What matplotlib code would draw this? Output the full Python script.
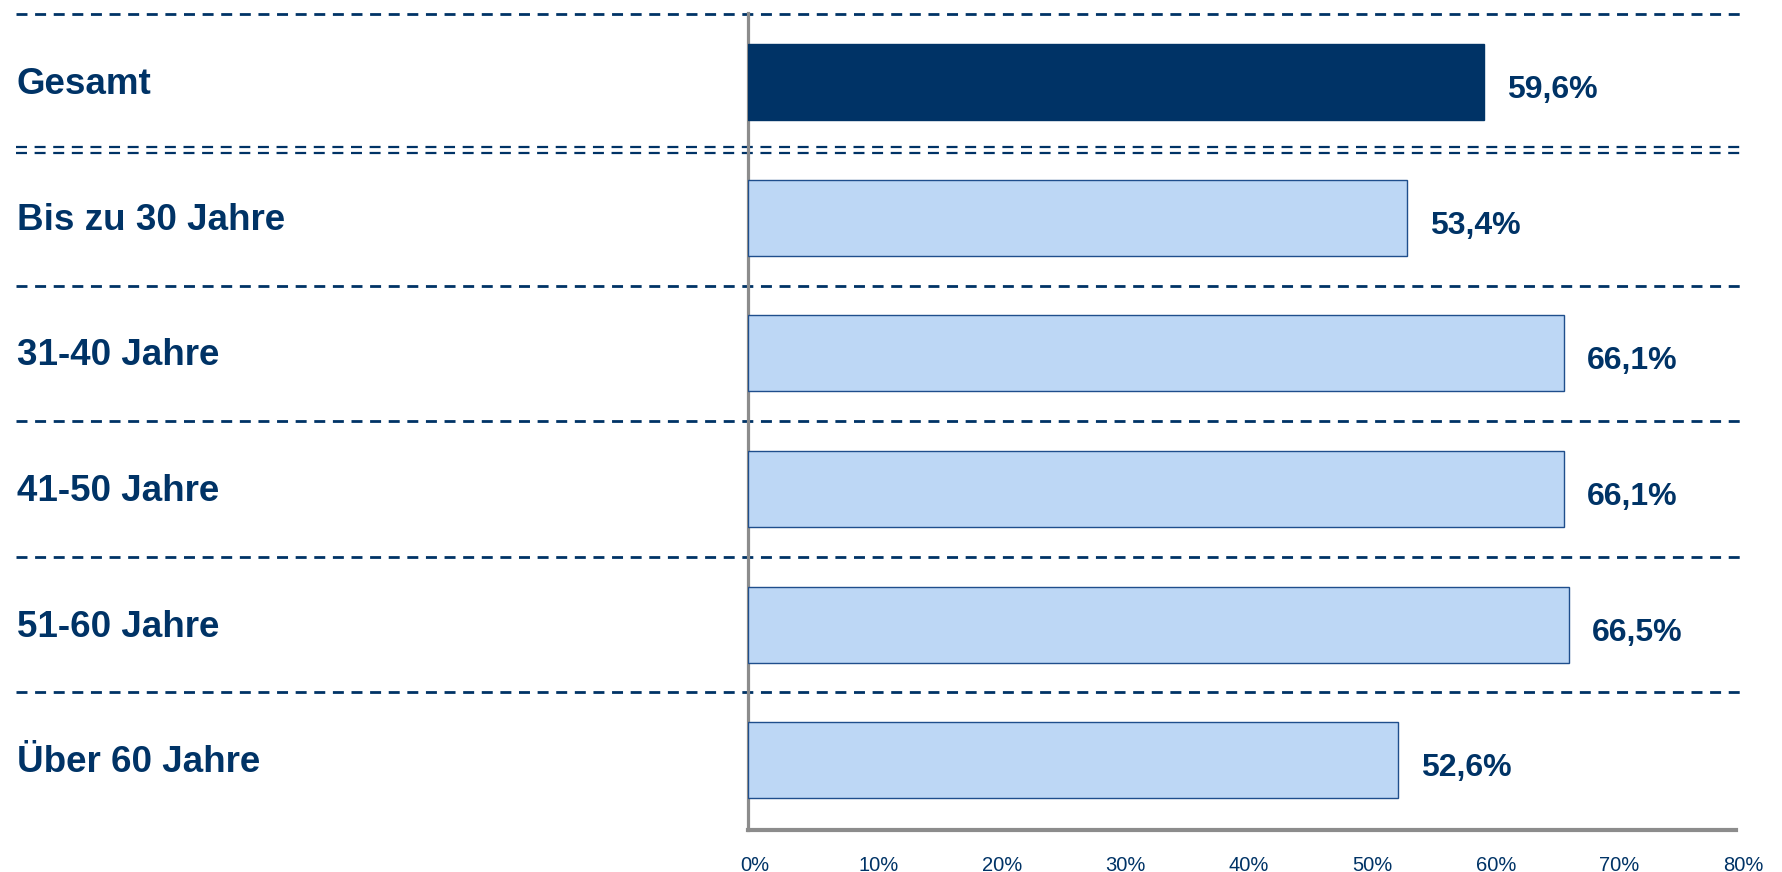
import matplotlib
matplotlib.use("Agg")
import matplotlib.pyplot as plt
from matplotlib.transforms import blended_transform_factory, ScaledTranslation

plt.rcParams['font.family'] = ['Liberation Sans', 'DejaVu Sans']
plt.rcParams['lines.scale_dashes'] = False

categories = ["Gesamt", "Bis zu 30 Jahre", "31-40 Jahre", "41-50 Jahre", "51-60 Jahre", "Über 60 Jahre"]
values = [59.6, 53.4, 66.1, 66.1, 66.5, 52.6]
value_labels = ["59,6%", "53,4%", "66,1%", "66,1%", "66,5%", "52,6%"]
xticks = [0, 10, 20, 30, 40, 50, 60, 70, 80]
xtick_labels = ["0%", "10%", "20%", "30%", "40%", "50%", "60%", "70%", "80%"]

NAVY = "#003366"
LIGHT = "#BDD7F5"
EDGE = "#1F4E8C"
GRAY = "#8C8C8C"

W, H = 1782, 872
fig = plt.figure(figsize=(W / 100, H / 100), dpi=100)
ax = fig.add_axes([748 / W, 42 / H, 988 / W, 817 / H])

ys = list(range(len(categories)))
colors = [NAVY] + [LIGHT] * (len(categories) - 1)
edges = [NAVY] + [EDGE] * (len(categories) - 1)
ax.barh(ys, values, height=0.56, color=colors, edgecolor=edges, linewidth=1.0, zorder=3)

ax.set_xlim(0, 80)
ax.set_ylim(5.515, -0.51)

for s in ["top", "right"]:
    ax.spines[s].set_visible(False)
ax.spines["left"].set_color(GRAY)
ax.spines["left"].set_linewidth(2.3)
ax.spines["bottom"].set_color(GRAY)
ax.spines["bottom"].set_linewidth(3.0)
ax.set_yticks([])
ax.set_xticks(xticks)
ax.set_xticklabels(xtick_labels, fontsize=14.5, color=NAVY)
ax.tick_params(axis="x", length=0, pad=19)
off = ScaledTranslation(7 / 100, 0, fig.dpi_scale_trans)
for lbl in ax.get_xticklabels():
    lbl.set_transform(lbl.get_transform() + off)

# category labels
trans_lbl = blended_transform_factory(fig.transFigure, ax.transData)
co = ScaledTranslation(0, -2.5 / 100, fig.dpi_scale_trans)
for y, c in zip(ys, categories):
    ax.text(17 / W, y, c, transform=trans_lbl + co, ha="left", va="center",
            fontsize=26.5, fontweight="bold", color=NAVY, clip_on=False)

# value labels
vo = ScaledTranslation(23 / 100, -8 / 100, fig.dpi_scale_trans)
for y, v, t in zip(ys, values, value_labels):
    ax.text(v, y, t, transform=ax.transData + vo, ha="left", va="center",
            fontsize=23, fontweight="bold", color=NAVY)

# dashed separators
x0, x1 = 16 / W, 1744 / W
dash = (7.9, 5.5)
ax.plot([x0, x1], [-0.5, -0.5], transform=trans_lbl, color=NAVY, lw=2.0,
        dashes=dash, clip_on=False, zorder=1)
for yy in (0.478, 0.522):
    ax.plot([x0, x1], [yy, yy], transform=trans_lbl, color=NAVY, lw=1.6,
            dashes=dash, clip_on=False, zorder=1)
for yy in (1.5, 2.5, 3.5, 4.5):
    ax.plot([x0, x1], [yy, yy], transform=trans_lbl, color=NAVY, lw=2.0,
            dashes=dash, clip_on=False, zorder=1)

fig.savefig("out.png", dpi=100)
